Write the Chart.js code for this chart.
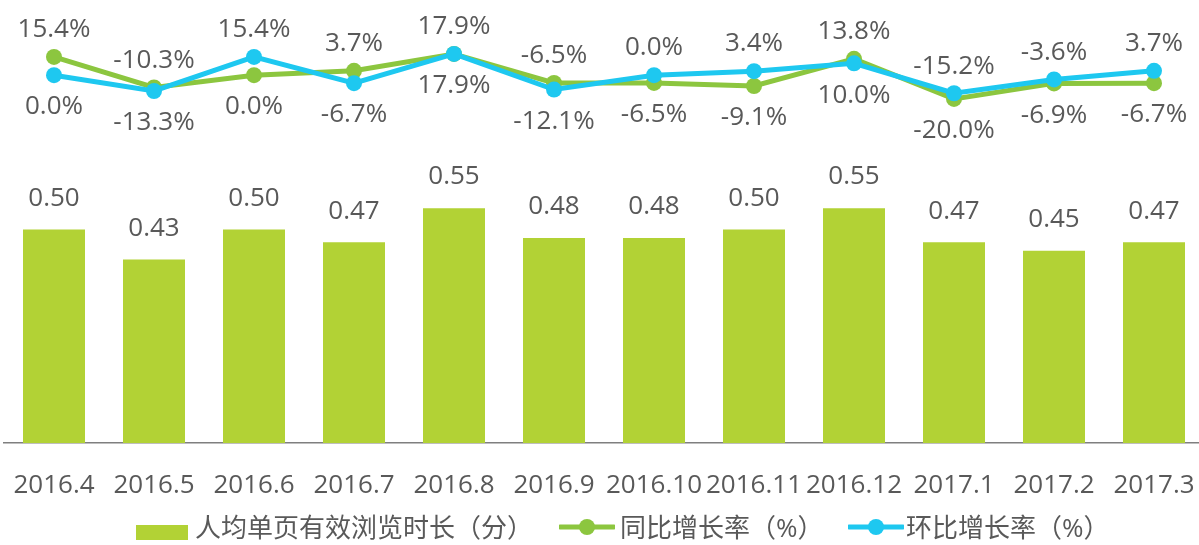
<!DOCTYPE html>
<html><head><meta charset="utf-8">
<script src="https://cdn.jsdelivr.net/npm/chart.js@4/dist/chart.umd.min.js"></script>
<style>
html,body{margin:0;padding:0;background:#fff;overflow:hidden;width:1199px;height:545px;}
#wrap{position:relative;width:1199px;height:545px;overflow:hidden;}
canvas{position:absolute;left:0;top:0;}
.lg{position:absolute;top:512px;height:30px;font-family:"Open Sans","Noto Sans CJK SC",sans-serif;font-size:26px;color:#595959;line-height:30px;white-space:nowrap;}
.mk{position:absolute;}
</style></head>
<body><div id="wrap"><canvas id="c" width="1204" height="545"></canvas>
<div class="lg" style="left:136px"><span class="mk" style="left:0;top:13px;width:52px;height:15px;background:#b2d235"></span><span style="position:absolute;left:59px">人均单页有效浏览时长（分）</span></div>
<div class="lg" style="left:559px"><svg class="mk" style="left:0;top:6px" width="56" height="18"><line x1="1" y1="9" x2="55" y2="9" stroke="#8cc63f" stroke-width="5" stroke-linecap="round"/><circle cx="28" cy="9" r="8" fill="#8cc63f"/></svg><span style="position:absolute;left:61px">同比增长率（%）</span></div>
<div class="lg" style="left:848px"><svg class="mk" style="left:0;top:6px" width="56" height="18"><line x1="1" y1="9" x2="55" y2="9" stroke="#1ec8f0" stroke-width="5" stroke-linecap="round"/><circle cx="28" cy="9" r="8" fill="#1ec8f0"/></svg><span style="position:absolute;left:58px">环比增长率（%）</span></div>
</div>
<script>
const categories = ["2016.4","2016.5","2016.6","2016.7","2016.8","2016.9","2016.10","2016.11","2016.12","2017.1","2017.2","2017.3"];
const durationValues = [0.50,0.43,0.50,0.47,0.55,0.48,0.48,0.50,0.55,0.47,0.45,0.47];
const yoyValues = [15.4,-10.3,0.0,3.7,17.9,-6.5,-6.5,-9.1,13.8,-20.0,-6.9,-6.7];
const momValues = [0.0,-13.3,15.4,-6.7,17.9,-12.1,0.0,3.4,10.0,-15.2,-3.6,3.7];
const seriesNames = ["人均单页有效浏览时长（分）","同比增长率（%）","环比增长率（%）"];

const FONT = '"Open Sans","Noto Sans CJK SC",sans-serif';
const TXT = '#595959';

const labelPlugin = {
  id: 'vals',
  afterDatasetsDraw(chart) {
    const ctx = chart.ctx;
    ctx.save();
    ctx.font = '26px ' + FONT;
    ctx.fillStyle = TXT;
    ctx.textAlign = 'center';
    ctx.textBaseline = 'alphabetic';
    const half = 9.3;
    const bars = chart.getDatasetMeta(0).data;
    bars.forEach((b, i) => {
      ctx.fillText(durationValues[i].toFixed(2), b.x, b.y - 33 + half);
    });
    const g = chart.getDatasetMeta(1).data;
    const c = chart.getDatasetMeta(2).data;
    g.forEach((pg, i) => {
      const pc = c[i];
      const gv = yoyValues[i], cv = momValues[i];
      let hiP, hiV, loP, loV;
      if (pg.y <= pc.y) { hiP = pg; hiV = gv; loP = pc; loV = cv; }
      else { hiP = pc; hiV = cv; loP = pg; loV = gv; }
      ctx.fillText(hiV.toFixed(1) + '%', hiP.x, hiP.y - 29 + half);
      ctx.fillText(loV.toFixed(1) + '%', loP.x, loP.y + 30 + half);
    });
    ctx.restore();
  }
};

new Chart(document.getElementById('c'), {
  type: 'bar',
  data: {
    labels: categories,
    datasets: [
      { type: 'bar', label: seriesNames[0], data: durationValues, backgroundColor: '#b2d235', yAxisID: 'y', order: 3, barPercentage: 1, categoryPercentage: 0.62 },
      { type: 'line', label: seriesNames[1], data: yoyValues, borderColor: '#8cc63f', backgroundColor: '#8cc63f', borderWidth: 5, pointRadius: 8, pointBorderWidth: 0, pointBackgroundColor: '#8cc63f', yAxisID: 'y1', order: 2, tension: 0, clip: false },
      { type: 'line', label: seriesNames[2], data: momValues, borderColor: '#1ec8f0', backgroundColor: '#1ec8f0', borderWidth: 5, pointRadius: 8, pointBorderWidth: 0, pointBackgroundColor: '#1ec8f0', yAxisID: 'y1', order: 1, tension: 0, clip: false }
    ]
  },
  options: {
    responsive: false,
    animation: false,
    layout: { autoPadding: false, padding: { left: 4, right: 0, top: 0, bottom: 0 } },
    plugins: { legend: { display: false }, tooltip: { enabled: false } },
    scales: {
      x: {
        grid: { display: false, drawTicks: true, tickLength: 27 },
        border: { display: true, color: '#7f7f7f', width: 1.5 },
        ticks: { color: TXT, font: { size: 26, family: FONT }, padding: 0, maxRotation: 0, autoSkip: false },
        afterFit(s) { s.height = 102; }
      },
      y: { display: false, min: 0, max: 1.0375 },
      y1: { display: false, min: -309.9, max: 63.35 }
    }
  },
  plugins: [labelPlugin]
});
</script>
</body></html>
